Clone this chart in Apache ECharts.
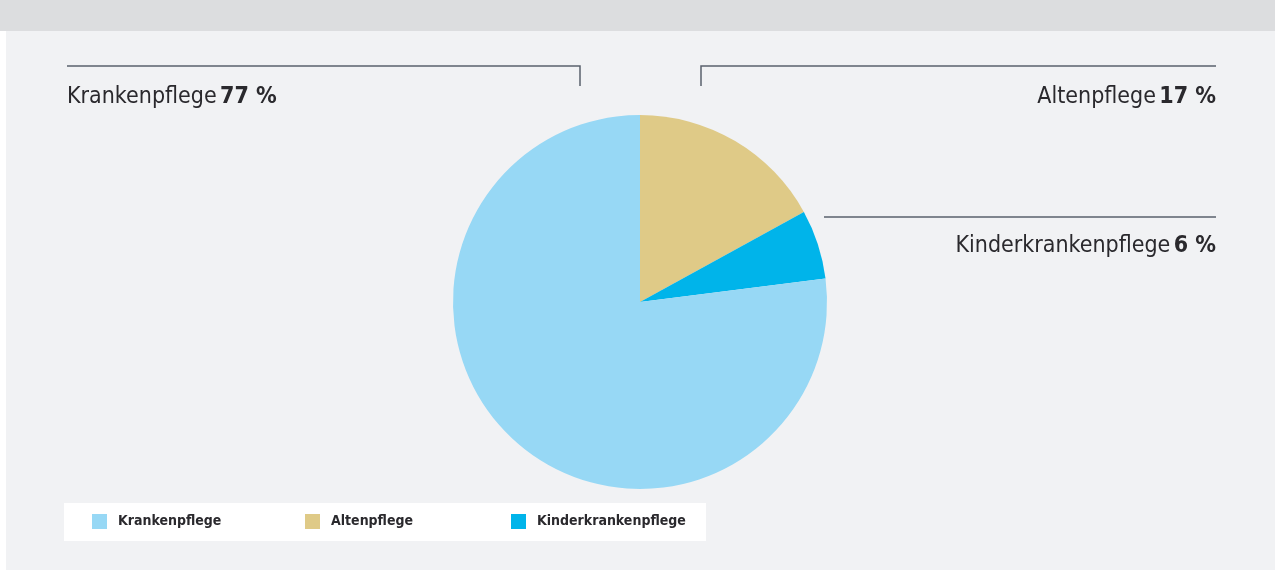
<!DOCTYPE html>
<html>
<head>
<meta charset="utf-8">
<script src="https://cdn.jsdelivr.net/npm/echarts@6/dist/echarts.min.js"></script>
<style>
  html, body { margin: 0; padding: 0; background: #ffffff; }
  #chart { width: 1275px; height: 570px; }
</style>
</head>
<body>
<div id="chart"></div>
<script>
// Ausbildungsbereiche (Anteile in Prozent)
const categories = ['Krankenpflege', 'Altenpflege', 'Kinderkrankenpflege'];
const shares = [77, 17, 6];
// Reihenfolge der Segmente im Uhrzeigersinn ab 12 Uhr
const sliceOrder = ['Altenpflege', 'Kinderkrankenpflege', 'Krankenpflege'];

const colors = {
  'Krankenpflege': '#97d8f5',
  'Altenpflege': '#dfca87',
  'Kinderkrankenpflege': '#00b4ea'
};

const FONT = '"Liberation Sans Narrow", "DejaVu Sans Condensed", "Roboto Condensed", sans-serif';
const TEXT = '#2a292d';
const RULE = '#59616c';

// Beschriftungen mit Führungslinien (Pixelposition im Diagramm)
const labelPlacement = {
  'Krankenpflege': { x: 67, y: 97, align: 'left',
    line: [[67, 66], [580, 66], [580, 86]] },
  'Altenpflege': { x: 1216, y: 97, align: 'right',
    line: [[701, 86], [701, 66], [1216, 66]] },
  'Kinderkrankenpflege': { x: 1216, y: 246, align: 'right',
    line: [[824, 217], [1020, 217], [1216, 217]] }
};

const pieData = sliceOrder.map(name => ({
  name: name,
  value: shares[categories.indexOf(name)],
  itemStyle: { color: colors[name] }
}));

// Legende: je Eintrag eine eigene Komponente für feste Abstände
const legendLefts = [92, 305, 511];
const legends = categories.map((name, i) => ({
  data: [name],
  left: legendLefts[i],
  top: 514,
  padding: 0,
  itemWidth: 15,
  itemHeight: 15,
  itemGap: 11,
  icon: 'rect',
  selectedMode: false,
  textStyle: { fontFamily: FONT, fontWeight: 'bold', fontSize: 14, color: TEXT, padding: [1, 0, 0, 6] }
}));

const chart = echarts.init(document.getElementById('chart'), null, { renderer: 'canvas' });
chart.setOption({
  animation: false,
  backgroundColor: '#ffffff',
  graphic: [
    { type: 'rect', left: 0, top: 0, shape: { width: 1275, height: 31 }, style: { fill: '#dcdddf' }, silent: true, z: -10 },
    { type: 'rect', left: 6, top: 31, shape: { width: 1269, height: 539 }, style: { fill: '#f1f2f4' }, silent: true, z: -10 },
    { type: 'rect', left: 64, top: 503, shape: { width: 642, height: 38 }, style: { fill: '#ffffff' }, silent: true, z: -9 }
  ],
  legend: legends,
  series: [{
    type: 'pie',
    center: [640, 302],
    radius: [0, 187],
    startAngle: 90,
    clockwise: true,
    silent: true,
    data: pieData,
    label: {
      show: true,
      formatter: p => '{n|' + p.name + '} {v|' + p.value + ' %}',
      rich: {
        n: { fontFamily: FONT, fontSize: 23, color: TEXT },
        v: { fontFamily: FONT, fontSize: 23, fontWeight: 'bold', color: TEXT }
      }
    },
    labelLine: {
      show: true,
      lineStyle: { color: RULE, width: 1.5 }
    },
    labelLayout: function (params) {
      const name = pieData[params.dataIndex].name;
      const p = labelPlacement[name];
      return {
        x: p.x,
        y: p.y,
        align: p.align,
        verticalAlign: 'middle',
        labelLinePoints: p.line
      };
    }
  }]
});
</script>
</body>
</html>
